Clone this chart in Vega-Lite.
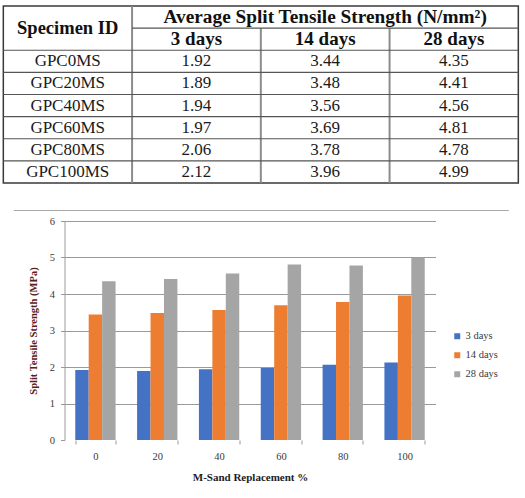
{
  "$schema": "https://vega.github.io/schema/vega-lite/v6.json",
  "background": "white",
  "padding": {"left": 1, "top": 4, "right": 0, "bottom": 0},
  "spacing": 5,
  "center": true,
  "datasets": {
    "strength": [
      {"id": "GPC0MS", "pct": "0", "3 days": 1.92, "14 days": 3.44, "28 days": 4.35},
      {"id": "GPC20MS", "pct": "20", "3 days": 1.89, "14 days": 3.48, "28 days": 4.41},
      {"id": "GPC40MS", "pct": "40", "3 days": 1.94, "14 days": 3.56, "28 days": 4.56},
      {"id": "GPC60MS", "pct": "60", "3 days": 1.97, "14 days": 3.69, "28 days": 4.81},
      {"id": "GPC80MS", "pct": "80", "3 days": 2.06, "14 days": 3.78, "28 days": 4.78},
      {"id": "GPC100MS", "pct": "100", "3 days": 2.12, "14 days": 3.96, "28 days": 4.99}
    ],
    "rowRules": [
      {"x": 1, "x2": 4, "y": 1},
      {"x": 0, "x2": 4, "y": 2},
      {"x": 0, "x2": 4, "y": 3},
      {"x": 0, "x2": 4, "y": 4},
      {"x": 0, "x2": 4, "y": 5},
      {"x": 0, "x2": 4, "y": 6},
      {"x": 0, "x2": 4, "y": 7}
    ],
    "columnRules": [
      {"x": 1, "y": 0, "y2": 8},
      {"x": 2, "y": 1, "y2": 8},
      {"x": 3, "y": 1, "y2": 8}
    ]
  },
  "vconcat": [
    {
      "width": 515,
      "height": 177,
      "view": {"stroke": "#3a3a3a", "strokeWidth": 1.5},
      "layer": [
        {
          "data": {"name": "columnRules"},
          "mark": {"type": "rule", "color": "#8c8c8c", "strokeWidth": 2},
          "encoding": {
            "x": {"field": "x", "type": "quantitative", "scale": {"domain": [0, 4], "nice": false}, "axis": null},
            "y": {"field": "y", "type": "quantitative", "scale": {"domain": [0, 8], "nice": false, "reverse": true}, "axis": null},
            "y2": {"field": "y2"}
          }
        },
        {
          "data": {"name": "rowRules"},
          "mark": {"type": "rule", "color": "#555555", "strokeWidth": 1.2},
          "encoding": {
            "x": {"field": "x", "type": "quantitative", "scale": {"domain": [0, 4], "nice": false}, "axis": null},
            "x2": {"field": "x2"},
            "y": {"field": "y", "type": "quantitative", "scale": {"domain": [0, 8], "nice": false, "reverse": true}, "axis": null}
          }
        },
        {
          "data": {"values": [{}]},
          "mark": {"type": "text", "text": "Specimen ID", "font": "Liberation Serif", "fontSize": 18.5, "fontWeight": "bold", "color": "#111111"},
          "encoding": {
            "x": {"datum": 0.5, "type": "quantitative", "scale": {"domain": [0, 4], "nice": false}, "axis": null},
            "y": {"datum": 1, "type": "quantitative", "scale": {"domain": [0, 8], "nice": false, "reverse": true}, "axis": null}
          }
        },
        {
          "data": {"values": [{}]},
          "mark": {"type": "text", "text": "Average Split Tensile Strength (N/mm²)", "font": "Liberation Serif", "fontSize": 19.3, "fontWeight": "bold", "color": "#111111"},
          "encoding": {
            "x": {"datum": "14 days", "type": "nominal", "scale": {"type": "point", "domain": ["Specimen ID", "3 days", "14 days", "28 days"], "padding": 0.5}, "axis": null},
            "y": {"datum": "title", "type": "nominal", "scale": {"type": "point", "domain": ["title", "head", "GPC0MS", "GPC20MS", "GPC40MS", "GPC60MS", "GPC80MS", "GPC100MS"], "padding": 0.5}, "axis": null}
          }
        },
        {
          "data": {"name": "strength"},
          "transform": [
            {"fold": ["3 days", "14 days", "28 days"], "as": ["age", "value"]},
            {"aggregate": [{"op": "count", "as": "n"}], "groupby": ["age"]}
          ],
          "mark": {"type": "text", "font": "Liberation Serif", "fontSize": 19, "fontWeight": "bold", "color": "#111111"},
          "encoding": {
            "text": {"field": "age", "type": "nominal"},
            "x": {"field": "age", "type": "nominal", "scale": {"type": "point", "domain": ["Specimen ID", "3 days", "14 days", "28 days"], "padding": 0.5}, "axis": null},
            "y": {"datum": "head", "type": "nominal", "scale": {"type": "point", "domain": ["title", "head", "GPC0MS", "GPC20MS", "GPC40MS", "GPC60MS", "GPC80MS", "GPC100MS"], "padding": 0.5}, "axis": null}
          }
        },
        {
          "data": {"name": "strength"},
          "mark": {"type": "text", "font": "Liberation Serif", "fontSize": 17, "color": "#1a1a1a"},
          "encoding": {
            "text": {"field": "id", "type": "nominal"},
            "x": {"datum": "Specimen ID", "type": "nominal", "scale": {"type": "point", "domain": ["Specimen ID", "3 days", "14 days", "28 days"], "padding": 0.5}, "axis": null},
            "y": {"field": "id", "type": "nominal", "scale": {"type": "point", "domain": ["title", "head", "GPC0MS", "GPC20MS", "GPC40MS", "GPC60MS", "GPC80MS", "GPC100MS"], "padding": 0.5}, "axis": null}
          }
        },
        {
          "data": {"name": "strength"},
          "transform": [{"fold": ["3 days", "14 days", "28 days"], "as": ["age", "value"]}],
          "mark": {"type": "text", "font": "Liberation Serif", "fontSize": 17, "color": "#1a1a1a"},
          "encoding": {
            "text": {"field": "value", "type": "quantitative", "format": ".2f"},
            "x": {"field": "age", "type": "nominal", "scale": {"type": "point", "domain": ["Specimen ID", "3 days", "14 days", "28 days"], "padding": 0.5}, "axis": null},
            "y": {"field": "id", "type": "nominal", "scale": {"type": "point", "domain": ["title", "head", "GPC0MS", "GPC20MS", "GPC40MS", "GPC60MS", "GPC80MS", "GPC100MS"], "padding": 0.5}, "axis": null}
          }
        }
      ],
      "resolve": {"scale": {"x": "independent", "y": "independent"}}
    },
    {
      "width": 495,
      "height": 20.5,
      "view": {"stroke": null},
      "data": {"values": [{}]},
      "mark": {"type": "rule", "color": "#a8a8a8", "strokeWidth": 1},
      "encoding": {
        "y": {"datum": 0, "type": "quantitative", "scale": {"domain": [0, 1], "nice": false}, "axis": null}
      }
    },
    {
      "width": 371,
      "height": 219,
      "view": {"stroke": null},
      "data": {"name": "strength"},
      "transform": [{"fold": ["3 days", "14 days", "28 days"], "as": ["age", "value"]}],
      "layer": [
        {
          "mark": {"type": "bar"},
          "encoding": {
            "x": {
              "field": "pct",
              "type": "nominal",
              "scale": {"domain": ["0", "20", "40", "60", "80", "100"], "paddingInner": 0.348, "paddingOuter": 0.174},
              "axis": {
                "title": "M-Sand Replacement %",
                "labelAngle": 0,
                "tickBand": "extent",
                "domain": false,
                "ticks": true,
                "tickSize": 4,
                "tickColor": "#9a9a9a",
                "labelPadding": 7,
                "labelFont": "Liberation Serif",
                "labelFontSize": 10.5,
                "labelColor": "#3a3a3a",
                "titleFont": "Liberation Serif",
                "titleFontSize": 11,
                "titleFontWeight": "bold",
                "titleColor": "#1c1c2a",
                "titlePadding": 10
              }
            },
            "xOffset": {
              "field": "age",
              "type": "nominal",
              "scale": {"domain": ["3 days", "14 days", "28 days"], "paddingInner": 0, "paddingOuter": 0}
            },
            "y": {
              "field": "value",
              "type": "quantitative",
              "scale": {"domain": [0, 6], "nice": false},
              "axis": {
                "title": "Split Tensile Strength (MPa)",
                "values": [0, 1, 2, 3, 4, 5, 6],
                "grid": true,
                "gridColor": "#9a9a9a",
                "gridOpacity": {"condition": {"test": "datum.value === 0", "value": 0}, "value": 1},
                "domain": true,
                "domainColor": "#9a9a9a",
                "ticks": true,
                "tickSize": 4,
                "tickColor": "#9a9a9a",
                "labelPadding": 6,
                "labelFont": "Liberation Serif",
                "labelFontSize": 10.5,
                "labelColor": "#3a3a3a",
                "titleFont": "Liberation Serif",
                "titleFontSize": 10.5,
                "titleFontWeight": "bold",
                "titleColor": "#5a2020",
                "titlePadding": 11
              }
            },
            "color": {
              "field": "age",
              "type": "nominal",
              "scale": {"domain": ["3 days", "14 days", "28 days"], "range": ["#4472C4", "#ED7D31", "#A5A5A5"]},
              "legend": {
                "orient": "none",
                "legendX": 449,
                "legendY": 325,
                "title": null,
                "symbolType": "square",
                "symbolSize": 36,
                "symbolStrokeWidth": 0,
                "labelFont": "Liberation Serif",
                "labelFontSize": 10.5,
                "labelColor": "#3a3a3a",
                "labelOffset": 3,
                "rowPadding": 8
              }
            }
          }
        },
        {
          "mark": {"type": "rule", "opacity": 0},
          "encoding": {
            "y": {
              "field": "value",
              "type": "quantitative",
              "axis": {
                "orient": "right",
                "values": [0],
                "domain": false,
                "grid": false,
                "labels": false,
                "title": null,
                "ticks": true,
                "tickSize": 23,
                "tickOpacity": 0
              }
            }
          }
        }
      ],
      "resolve": {"axis": {"y": "independent"}}
    }
  ],
  "config": {
    "view": {"stroke": null},
    "font": "Liberation Serif"
  }
}
